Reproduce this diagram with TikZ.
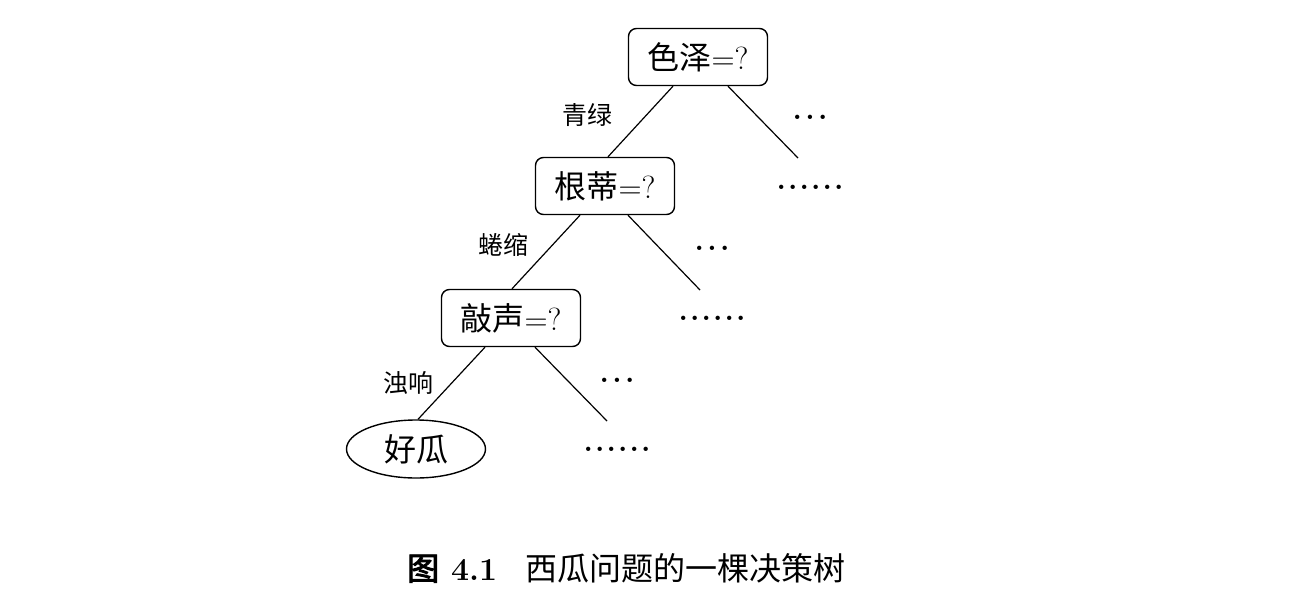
\documentclass[tikz,border=0pt]{standalone}
\usepackage{fontspec}
\newfontfamily\cjk{Noto Sans CJK SC}
\newfontfamily\cjkb[FakeBold=3]{Noto Sans CJK SC}
\usetikzlibrary{shapes.geometric}
\newcommand\threedots{.\kern3.4pt.\kern3.4pt.}
\newcommand\sixdots{.\kern2.1pt.\kern2.1pt.\kern2.1pt.\kern2.1pt.\kern2.1pt.}
\begin{document}
\begin{tikzpicture}[x=1pt,y=-1pt,
  qbox/.style={draw, rounded corners=8pt, line width=1.4pt, minimum width=139pt, minimum height=57pt, inner sep=0pt, font=\fontsize{32}{32}\selectfont},
  leaf/.style={draw, ellipse, line width=1.4pt, minimum width=139pt, minimum height=58pt, inner sep=0pt, font=\fontsize{32}{32}\selectfont},
  edge/.style={line width=1.2pt},
  lbl/.style={font=\cjk\fontsize{25}{25}\selectfont, inner sep=0pt},
  dotsn/.style={font=\bfseries\fontsize{30}{30}\selectfont, inner sep=0pt}]
\fill[white] (0,0) rectangle (1290,600);
\useasboundingbox (0,0) rectangle (1290,600);
% question nodes
\node[qbox] (q1) at (698,57) {{\cjk 色泽}=?};
\node[qbox] (q2) at (605,186) {{\cjk 根蒂}=?};
\node[qbox] (q3) at (511,318) {{\cjk 敲声}=?};
\node[leaf] (g) at (416,449) {{\cjk 好瓜}};
% free ends of right branches
\coordinate (r1) at (798,158);
\coordinate (r2) at (700,290);
\coordinate (r3) at (607,421);
% edges
\draw[edge] ([xshift=-25pt]q1.south) -- ([xshift=3pt]q2.north);
\draw[edge] ([xshift=30pt]q1.south) -- (r1);
\draw[edge] ([xshift=-25pt]q2.south) -- ([xshift=1pt]q3.north);
\draw[edge] ([xshift=23pt]q2.south) -- (r2);
\draw[edge] ([xshift=-26pt]q3.south) -- ([xshift=2pt]g.north);
\draw[edge] ([xshift=24pt]q3.south) -- (r3);
% edge labels
\node[lbl] (l1) at (587,115) {青绿};
\node[lbl] (l2) at (503,245) {蜷缩};
\node[lbl] (l3) at (408,383) {浊响};
% dots
\node[dotsn] (d1a) at (810,117) {\threedots};
\node[dotsn] (d1b) at (810,187) {\sixdots};
\node[dotsn] (d2a) at (712,248) {\threedots};
\node[dotsn] (d2b) at (712,318) {\sixdots};
\node[dotsn] (d3a) at (617,380) {\threedots};
\node[dotsn] (d3b) at (617,449) {\sixdots};
% caption
\node[anchor=west, inner sep=0pt, font=\fontsize{32}{32}\selectfont] (cap) at (407,568)
  {{\cjkb 图}\hspace{12pt}{\bfseries 4.1}\hspace{28pt}{\cjk 西瓜问题的一棵决策树}};
\end{tikzpicture}
\end{document}
